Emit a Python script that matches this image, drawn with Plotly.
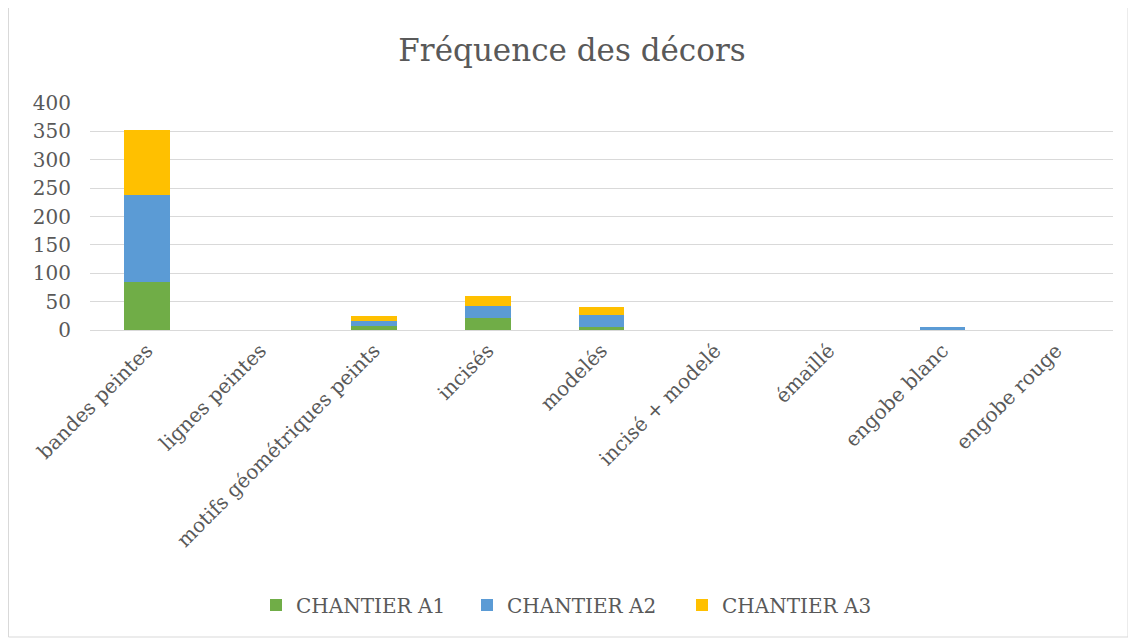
import plotly.graph_objects as go

categories = ["bandes peintes", "lignes peintes", "motifs géométriques peints", "incisés",
              "modelés", "incisé + modelé", "émaillé", "engobe blanc", "engobe rouge"]
chantier_a1 = [85, 0, 7, 22, 6, 0, 0, 0, 0]
chantier_a2 = [153, 0, 9, 20, 21, 0, 0, 6, 0]
chantier_a3 = [115, 0, 8, 18, 14, 0, 0, 0, 0]
series_names = ["CHANTIER A1", "CHANTIER A2", "CHANTIER A3"]
colors = ["#70AD47", "#5B9BD5", "#FFC000"]
tick_vals = [0, 50, 100, 150, 200, 250, 300, 350, 400]

FONT = "DejaVu Serif"
GREY = "#595959"
W, H = 1128, 631
L, R, T, B = 82, 23, 95, 309
PW = W - L - R
PH = H - T - B

fig = go.Figure()
legend_names = ["legend", "legend2", "legend3"]
for name, vals, col, lg in zip(series_names, [chantier_a1, chantier_a2, chantier_a3], colors, legend_names):
    fig.add_trace(go.Bar(x=categories, y=vals, name=name, marker_color=col,
                         marker_line_width=0, legend=lg, showlegend=True))

legend_y = (H - B - 597) / PH
marker_centers = [268, 479, 694]
leg_common = dict(orientation="h", yanchor="middle", y=legend_y, xanchor="left", visible=True,
                  font=dict(family=FONT, size=20, color=GREY), bgcolor="rgba(0,0,0,0)")

def px_x(v):
    return (v - L) / PW

def px_y(v):
    return (H - B - v) / PH

fig.update_layout(
    barmode="stack", bargap=0.6,
    width=W, height=H, showlegend=True,
    paper_bgcolor="white", plot_bgcolor="white",
    margin=dict(l=L, r=R, t=T, b=B, autoexpand=False),
    title=dict(text="Fréquence des décors", x=0.5, xanchor="center",
               y=1 - 42 / H, yanchor="middle",
               font=dict(family=FONT, size=31, color=GREY)),
    font=dict(family=FONT, color=GREY, size=20),
    legend=dict(leg_common, x=px_x(marker_centers[0] - 20)),
    legend2=dict(leg_common, x=px_x(marker_centers[1] - 20)),
    legend3=dict(leg_common, x=px_x(marker_centers[2] - 20)),
    xaxis=dict(tickangle=-45, showgrid=False, showline=True, linecolor="#D9D9D9", linewidth=1,
               ticks="", tickfont=dict(family=FONT, size=20, color=GREY)),
    yaxis=dict(range=[0, 400], tickvals=tick_vals, showgrid=True, gridcolor="#D9D9D9",
               gridwidth=1, zeroline=False, ticks="", ticklabelstandoff=18,
               tickfont=dict(family=FONT, size=20, color=GREY)),
    shapes=[
        dict(type="line", xref="paper", yref="paper", x0=px_x(0.5), x1=px_x(0.5),
             y0=px_y(629), y1=px_y(0), line=dict(color="#D9D9D9", width=1)),
        dict(type="line", xref="paper", yref="paper", x0=px_x(1120), x1=px_x(1120),
             y0=px_y(629), y1=px_y(0), line=dict(color="#D9D9D9", width=1)),
        dict(type="line", xref="paper", yref="paper", x0=px_x(0.5), x1=px_x(1120),
             y0=px_y(629), y1=px_y(629), line=dict(color="#D9D9D9", width=1)),
    ],
)
fig.write_html("out.html")
